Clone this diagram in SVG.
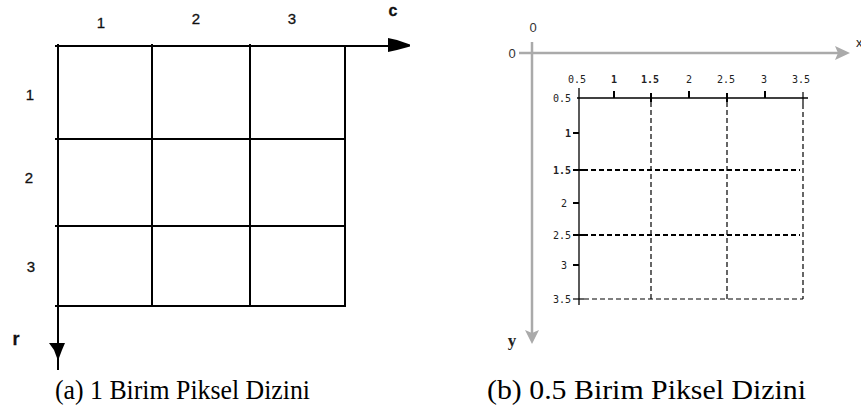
<svg xmlns="http://www.w3.org/2000/svg" width="861" height="419" viewBox="0 0 861 419">
<style>
.bk{stroke:#000;stroke-width:2;fill:none}
.gr{stroke:#aaa;stroke-width:2.5;fill:none}
.lab{font-family:"Liberation Sans",Arial,sans-serif;font-size:15px;fill:#111;stroke:#111;stroke-width:0.3;text-anchor:middle}
.tk{font-family:"DejaVu Sans Mono",monospace;font-size:10px;fill:#222;text-anchor:middle}
.tkl{font-family:"DejaVu Sans Mono",monospace;font-size:10px;fill:#222;text-anchor:end}
.dv{stroke:#000;stroke-width:1.2;stroke-dasharray:5 3;fill:none}
.dh{stroke:#000;stroke-width:2;stroke-dasharray:5 3;fill:none}
.cap{font-family:"Liberation Serif","Times New Roman",serif;font-size:27px;fill:#000}
</style>
<rect width="861" height="419" fill="#fff"/>
<g id="panel-a">
  <g id="grid-a">
    <line class="bk" x1="55" y1="46" x2="392" y2="46"/>
    <line class="bk" x1="58" y1="44" x2="58" y2="370"/>
    <line class="bk" x1="55" y1="139" x2="345" y2="139"/>
    <line class="bk" x1="55" y1="226" x2="345" y2="226"/>
    <line class="bk" x1="55" y1="306" x2="345" y2="306"/>
    <line class="bk" x1="152" y1="44" x2="152" y2="306"/>
    <line class="bk" x1="250" y1="44" x2="250" y2="306"/>
    <line class="bk" x1="345" y1="46" x2="345" y2="307"/>
    <polygon points="388,38 397,40 410,44.5 410,46.5 397,50 388,52" fill="#000"/>
    <polygon points="49,343 65,343 62,350 59,358 57,358 54,350" fill="#000"/>
  </g>
  <g id="labels-a">
    <text class="lab" x="101" y="28">1</text>
    <text class="lab" x="196" y="24">2</text>
    <text class="lab" x="292" y="24">3</text>
    <text class="lab" x="393" y="16" style="font-weight:bold;font-size:16px">c</text>
    <text class="lab" x="30" y="100">1</text>
    <text class="lab" x="29" y="183">2</text>
    <text class="lab" x="31" y="272">3</text>
    <text class="lab" x="16" y="345" style="font-weight:bold;font-size:18px">r</text>
  </g>
</g>
<g id="panel-b">
  <g id="axes-gray">
    <line class="gr" x1="519" y1="53" x2="840" y2="53"/>
    <polygon points="835,46 850,53 835,60 838,53" fill="#aaa"/>
    <line class="gr" x1="532" y1="42" x2="532" y2="334"/>
    <polygon points="525,330 532,344 539,330 532,333" fill="#aaa"/>
    <text x="533" y="32" style="font-family:'Liberation Sans',sans-serif;font-size:13px;fill:#333;text-anchor:middle">0</text>
    <text x="512" y="58" style="font-family:'Liberation Sans',sans-serif;font-size:13px;fill:#333;text-anchor:middle">0</text>
    <text x="856" y="47" style="font-family:'Liberation Sans',sans-serif;font-size:13px;fill:#222">x</text>
    <text x="512" y="346" style="font-family:'Liberation Serif',serif;font-size:17px;font-weight:bold;fill:#222;text-anchor:middle">y</text>
  </g>
  <g id="axes-black">
    <line stroke="#000" stroke-width="1.3" x1="577" y1="98" x2="808" y2="98"/>
    <line stroke="#000" stroke-width="1.3" x1="579" y1="88" x2="579" y2="305"/>
    <g stroke="#000" stroke-width="2">
      <line x1="614" y1="91" x2="614" y2="98"/>
      <line x1="689" y1="91" x2="689" y2="98"/>
      <line x1="765" y1="91" x2="765" y2="98"/>
      <line x1="651" y1="93" x2="651" y2="102"/>
      <line x1="727" y1="93" x2="727" y2="102"/>
      <line x1="573" y1="133" x2="579" y2="133"/>
      <line x1="573" y1="203" x2="579" y2="203"/>
      <line x1="573" y1="265" x2="579" y2="265"/>
      <line x1="573" y1="170" x2="583" y2="170"/>
      <line x1="573" y1="235" x2="583" y2="235"/>
    </g>
    <g stroke="#000" stroke-width="1.2">
      <line x1="803" y1="92" x2="803" y2="104"/>
      <line x1="573" y1="299" x2="584" y2="299"/>
    </g>
  </g>
  <g id="dashed-grid">
    <line class="dv" x1="651" y1="102" x2="651" y2="299"/>
    <line class="dv" x1="727" y1="102" x2="727" y2="299"/>
    <line class="dv" x1="803" y1="104" x2="803" y2="299"/>
    <line class="dh" x1="583" y1="170" x2="800" y2="170"/>
    <line class="dh" x1="583" y1="235" x2="800" y2="235"/>
    <line class="dv" x1="584" y1="299" x2="803" y2="299"/>
  </g>
  <g id="ticklabels">
    <text class="tk" x="577" y="83">0.5</text>
    <text class="tk" x="614" y="83" style="font-weight:bold">1</text>
    <text class="tk" x="650" y="83" style="font-weight:bold">1.5</text>
    <text class="tk" x="689" y="83">2</text>
    <text class="tk" x="726" y="83">2.5</text>
    <text class="tk" x="764" y="83">3</text>
    <text class="tk" x="801" y="83">3.5</text>
    <text class="tkl" x="571" y="102">0.5</text>
    <text class="tkl" x="571" y="137" style="font-weight:bold">1</text>
    <text class="tkl" x="571" y="174" style="font-weight:bold">1.5</text>
    <text class="tkl" x="567" y="207">2</text>
    <text class="tkl" x="571" y="239">2.5</text>
    <text class="tkl" x="567" y="269">3</text>
    <text class="tkl" x="571" y="303">3.5</text>
  </g>
</g>
<g id="captions">
  <text class="cap" x="55" y="399" textLength="255" lengthAdjust="spacingAndGlyphs">(a) 1 Birim Piksel Dizini</text>
  <text class="cap" x="487" y="399" textLength="319" lengthAdjust="spacingAndGlyphs">(b) 0.5 Birim Piksel Dizini</text>
</g>
</svg>
